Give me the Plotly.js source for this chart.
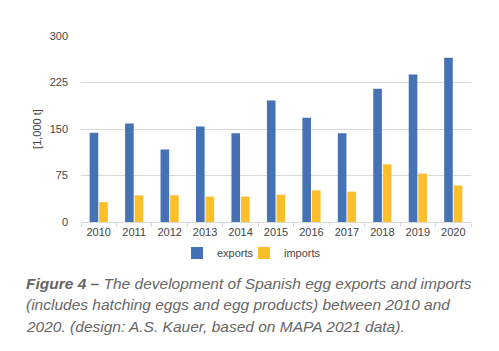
<!DOCTYPE html>
<html>
<head>
<meta charset="utf-8">
<script src="https://cdn.plot.ly/plotly-3.0.1.min.js"></script>
<style>
html,body{margin:0;padding:0;background:#fff;}
#chart{width:499px;height:351px;}
</style>
</head>
<body>
<div id="chart"></div>
<script>
const years = ["2010","2011","2012","2013","2014","2015","2016","2017","2018","2019","2020"];
const exportsVals = [144, 159, 117, 154, 143, 196, 168, 143, 215, 238, 265];
const importsVals = [32, 43, 43, 41, 41, 44, 51, 49, 93, 78, 59];
const yTicks = [0, 75, 150, 225, 300];
const captionLines = [
  "<b>Figure 4 –</b> The development of Spanish egg exports and imports",
  "(includes hatching eggs and egg products) between 2010 and",
  "2020. (design: A.S. Kauer, based on MAPA 2021 data)."
];

const font = "Liberation Sans, Arial, sans-serif";
const traces = [
  {type:"bar", name:"exports", x:years, y:exportsVals, marker:{color:"#4472B4"}, legend:"legend"},
  {type:"bar", name:"imports", x:years, y:importsVals, marker:{color:"#FBBF2C"}, legend:"legend2"}
];

const annotations = captionLines.map((t, i) => ({
  text: "<i>" + t + "</i>",
  xref: "paper", yref: "paper",
  x: -57/390, xanchor: "left",
  y: (222 - (283 + i*21.5)) / 186, yanchor: "middle",
  showarrow: false,
  align: "left",
  font: {family: font, size: 15.5, color: "#666666"}
}));

function legendAt(px) {
  return {
    orientation: "h",
    x: (px - 81) / 390, xanchor: "left",
    y: (222 - 253) / 186, yanchor: "middle",
    font: {family: font, size: 11, color: "#444"},
    bgcolor: "rgba(0,0,0,0)"
  };
}

const layout = {
  width: 499, height: 351,
  margin: {l: 81, r: 28, t: 36, b: 129},
  paper_bgcolor: "#fff", plot_bgcolor: "#fff",
  font: {family: font, color: "#444", size: 11},
  barmode: "group",
  bargap: 0.46,
  bargroupgap: 0.1,
  showlegend: true,
  legend: legendAt(177),
  legend2: legendAt(244),
  xaxis: {
    type: "category",
    showgrid: false,
    showline: true, linecolor: "#d9d9d9", linewidth: 1,
    ticks: "outside", tickson: "boundaries", ticklen: 4, tickcolor: "#d9d9d9",
    tickfont: {family: font, size: 11, color: "#444"},
    fixedrange: true
  },
  yaxis: {
    range: [0, 300],
    tickvals: yTicks,
    ticktext: yTicks.map(String),
    showgrid: true, gridcolor: "#d9d9d9", gridwidth: 1,
    zeroline: false, showline: false,
    ticks: "", ticklabelstandoff: 12,
    tickfont: {family: font, size: 11, color: "#444"},
    title: {text: "[1,000 t]", font: {family: font, size: 11, color: "#444"}, standoff: 5},
    fixedrange: true
  },
  annotations: annotations
};

Plotly.newPlot("chart", traces, layout, {displayModeBar: false, staticPlot: true});
</script>
</body>
</html>
